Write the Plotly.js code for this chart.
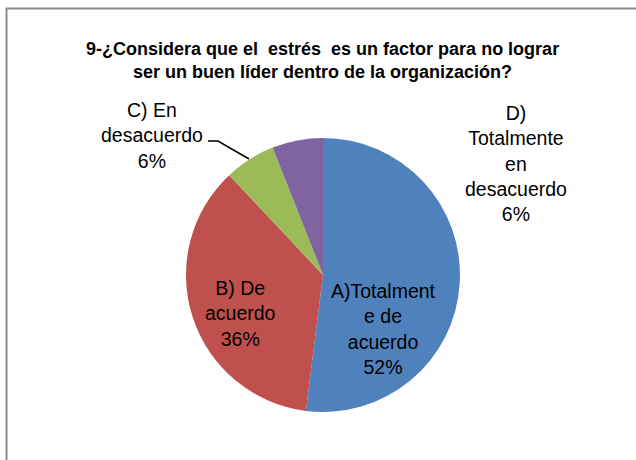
<!DOCTYPE html>
<html><head><meta charset="utf-8">
<script src="https://cdn.plot.ly/plotly-3.0.1.min.js"></script>
<style>html,body{margin:0;padding:0;background:#fff}#c{width:636px;height:460px}</style>
</head><body><div id="c"></div>
<script>
const categories = ["A)Totalmente de acuerdo", "B) De acuerdo", "C) En desacuerdo", "D) Totalmente en desacuerdo"];
const values = [52, 36, 6, 6];
const labelLines = [["A)Totalment", "e de", "acuerdo"], ["B) De", "acuerdo"], ["C) En", "desacuerdo"], ["D)", "Totalmente", "en", "desacuerdo"]];
const colors = ["#4F81BD", "#C0504D", "#9BBB59", "#8064A2"];
const titleText = "9-¿Considera que el&nbsp; estrés&nbsp; es un factor para no lograr<br>ser un buen líder dentro de la organización?";

const W = 636, H = 460;
const px = x => x / W, py = y => 1 - y / H;
const FONT = "Liberation Sans, Arial, sans-serif";

const total = values.reduce((a, b) => a + b, 0);
const labelPos = [[383, 329], [240, 313], [152, 135], [516, 163.5]];
const annotations = categories.map((c, i) => ({
  text: labelLines[i].concat([Math.round(values[i] / total * 100) + "%"]).join("<br>"),
  x: px(labelPos[i][0]), y: py(labelPos[i][1]), xref: "paper", yref: "paper",
  xanchor: "center", yanchor: "middle", showarrow: false, align: "center",
  font: {family: FONT, size: 19.5, color: "#000"}
}));
annotations.push({
  text: titleText, x: px(322), y: py(60), xref: "paper", yref: "paper",
  xanchor: "center", yanchor: "middle", showarrow: false, align: "center",
  font: {family: FONT, size: 18, color: "#000", weight: "bold"}
});

const leader = [[208, 141], [218, 141], [249, 159]];
const path = leader.map((p, i) => (i ? "L" : "M") + px(p[0]) + "," + py(p[1])).join(" ");

Plotly.newPlot("c", [{
  type: "pie", labels: categories, values: values, sort: false, direction: "clockwise", rotation: 0,
  marker: {colors: colors, line: {width: 0}}, textinfo: "none", hoverinfo: "label+percent",
  domain: {x: [px(186), px(460)], y: [py(412), py(138)]}, showlegend: false
}], {
  width: W, height: H, margin: {l: 0, r: 0, t: 0, b: 0}, paper_bgcolor: "#fff",
  annotations: annotations,
  shapes: [
    {type: "rect", xref: "paper", yref: "paper", x0: px(6.5), x1: px(700), y0: py(8.5), y1: py(520),
     line: {color: "#8c8c8c", width: 2}, fillcolor: "rgba(0,0,0,0)"},
    {type: "path", xref: "paper", yref: "paper", path: path, line: {color: "#000", width: 1.5}}
  ]
}, {staticPlot: true});
</script></body></html>
